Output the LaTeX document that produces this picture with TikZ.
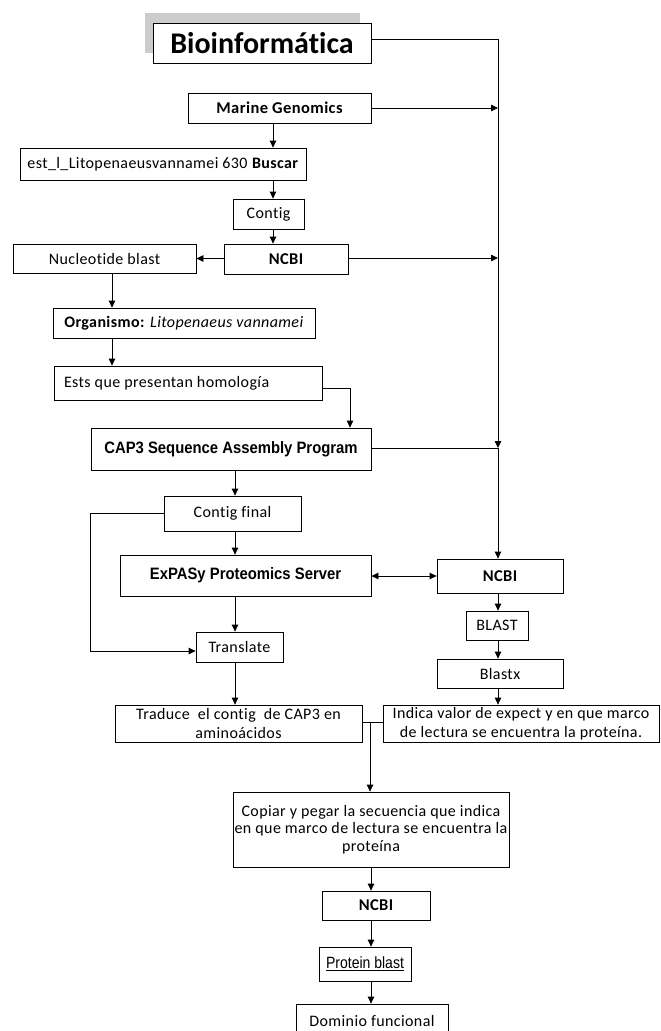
\documentclass[tikz,border=0pt]{standalone}
\usepackage{fontspec}
\setmainfont{Carlito}[LetterSpace=2.5,Ligatures=NoCommon]
\newfontfamily\narrowfont[FakeStretch=0.9]{Liberation Sans}
\newfontfamily\pbfont[FakeStretch=0.86]{Liberation Sans}
\usetikzlibrary{arrows.meta}
\tikzset{
  box/.style={draw, line width=0.8pt, inner sep=0pt, align=center, fill=white,
    font=\fontsize{16}{19}\selectfont},
  arr/.style={-{Triangle[length=7pt,width=6.5pt]}, line width=0.8pt},
  dbl/.style={{Triangle[length=7pt,width=6.5pt]}-{Triangle[length=7pt,width=6.5pt]}, line width=0.8pt},
  ln/.style={line width=0.8pt}
}
\begin{document}
\begin{tikzpicture}[x=1pt,y=-1pt]
\useasboundingbox (0,0) rectangle (661,1031);
\clip (0,0) rectangle (661,1031);
% column coordinates
\coordinate (xa) at (273,0);
\coordinate (xn) at (112,0);
\coordinate (xe) at (350,0);
\coordinate (xc) at (235,0);
\coordinate (xl) at (90,0);
\coordinate (xj) at (370,0);
\coordinate (xb) at (371,0);
\coordinate (rtop) at (498,39);
\coordinate (rmar) at (498,108);
\coordinate (rncbi) at (498,258);
\coordinate (rcap) at (498,448);
\coordinate (yleft1) at (0,513);
\coordinate (yleft2) at (0,651);
\coordinate (yj) at (0,722);
% shadow
\fill[black!20] (145,13) rectangle (360,53);
% nodes
\node[box, minimum width=218pt, minimum height=40pt, font=\fontsize{30}{34}\selectfont\bfseries\addfontfeature{LetterSpace=0}] (bio) at (262,43) {Bioinformática};
\node[box, minimum width=183pt, minimum height=30pt, font=\fontsize{16.5}{19}\selectfont\bfseries] (marine) at (279.5,108) {Marine Genomics};
\node[box, minimum width=286pt, minimum height=32pt] (est) at (163,164) {est\_l\_Litopenaeusvannamei 630 \textbf{Buscar}};
\node[box, minimum width=71pt, minimum height=30pt] (contig) at (268.5,214) {Contig};
\node[box, minimum width=124pt, minimum height=30pt, font=\fontsize{16.5}{19}\selectfont\bfseries] (ncbi1) at (286,259) {NCBI};
\node[box, minimum width=183pt, minimum height=29pt] (nuc) at (104.5,258.5) {Nucleotide blast};
\node[box, minimum width=262pt, minimum height=30pt] (org) at (184,323) {\textbf{Organismo:} \textit{Litopenaeus vannamei}};
\node[box, minimum width=268pt, minimum height=34pt] (ests) at (188,383) {\makebox[248pt][l]{Ests que presentan homología}};
\node[box, minimum width=280pt, minimum height=42pt, font=\fontsize{16.5}{19}\selectfont\narrowfont\bfseries] (cap) at (231,449) {CAP3 Sequence Assembly Program};
\node[box, minimum width=137pt, minimum height=35pt] (cf) at (232.5,513.5) {Contig final};
\node[box, minimum width=251pt, minimum height=41pt, font=\fontsize{16.5}{19}\selectfont\narrowfont\bfseries] (expasy) at (245.5,575.5) {ExPASy Proteomics Server};
\node[box, minimum width=87pt, minimum height=30pt] (tr) at (239.5,647) {Translate};
\node[box, minimum width=247pt, minimum height=37pt] (trad) at (238.5,723.5) {Traduce\ \ el contig\ \ de CAP3 en\\aminoácidos};
\node[box, minimum width=126pt, minimum height=34pt, font=\fontsize{16.5}{19}\selectfont\bfseries] (ncbi2) at (500,576) {NCBI};
\node[box, minimum width=62pt, minimum height=29pt] (blast) at (497,625.5) {BLAST};
\node[box, minimum width=126pt, minimum height=29pt] (blastx) at (500,673.5) {Blastx};
\node[box, minimum width=276pt, minimum height=37pt] (ind) at (521,723.5) {Indica valor de expect y en que marco\\de lectura se encuentra la proteína.};
\node[box, minimum width=276pt, minimum height=75pt, font=\fontsize{16}{17.5}\selectfont] (cop) at (371,829.5) {Copiar y pegar la secuencia que indica\\en que marco de lectura se encuentra la\\proteína};
\node[box, minimum width=108pt, minimum height=29pt, font=\fontsize{16.5}{19}\selectfont\bfseries] (ncbi3) at (376,905.5) {NCBI};
\node[box, minimum width=92pt, minimum height=34pt, font=\fontsize{16.3}{19}\selectfont\pbfont] (pb) at (365,964) {\underline{Protein blast}};
\node[box, minimum width=152pt, minimum height=34pt] (dom) at (372,1021) {Dominio funcional};
% upper chain
\draw[arr] (marine.south -| xa) -- (est.north -| xa);
\draw[arr] (est.south -| xa) -- (contig.north -| xa);
\draw[arr] (contig.south -| xa) -- (ncbi1.north -| xa);
\draw[arr] (ncbi1.west |- nuc.east) -- (nuc.east);
\draw[arr] (nuc.south -| xn) -- (org.north -| xn);
\draw[arr] (org.south -| xn) -- (ests.north -| xn);
\draw[arr] ([yshift=-5pt]ests.east) -| (cap.north -| xe);
% right line
\draw[ln] (bio.east |- rtop) -- (rtop);
\draw[arr] (rtop) -- (rcap);
\draw[arr] (marine.east |- rmar) -- (rmar);
\draw[arr] (ncbi1.east |- rncbi) -- (rncbi);
\draw[ln] (cap.east |- rcap) -- (rcap);
\draw[arr] (rcap) -- (ncbi2.north -| rcap);
% left column
\draw[arr] (cap.south -| xc) -- (cf.north -| xc);
\draw[arr] (cf.south -| xc) -- (expasy.north -| xc);
\draw[arr] (expasy.south -| xc) -- (tr.north -| xc);
\draw[arr] (cf.west |- yleft1) -- (xl |- yleft1) -- (xl |- yleft2) -- (tr.west |- yleft2);
\draw[arr] (tr.south -| xc) -- (trad.north -| xc);
\draw[dbl] (expasy.east |- ncbi2.west) -- (ncbi2.west);
% right column
\draw[arr] (ncbi2.south -| rcap) -- (blast.north -| rcap);
\draw[arr] (blast.south -| rcap) -- (blastx.north -| rcap);
\draw[arr] (blastx.south -| rcap) -- (ind.north -| rcap);
% junction
\draw[ln] (trad.east |- yj) -- (ind.west |- yj);
\draw[arr] (xj |- yj) -- (cop.north -| xj);
% bottom chain
\draw[arr] (cop.south -| xb) -- (ncbi3.north -| xb);
\draw[arr] (ncbi3.south -| xb) -- (pb.north -| xb);
\draw[arr] (pb.south -| xb) -- (dom.north -| xb);
\end{tikzpicture}
\end{document}
